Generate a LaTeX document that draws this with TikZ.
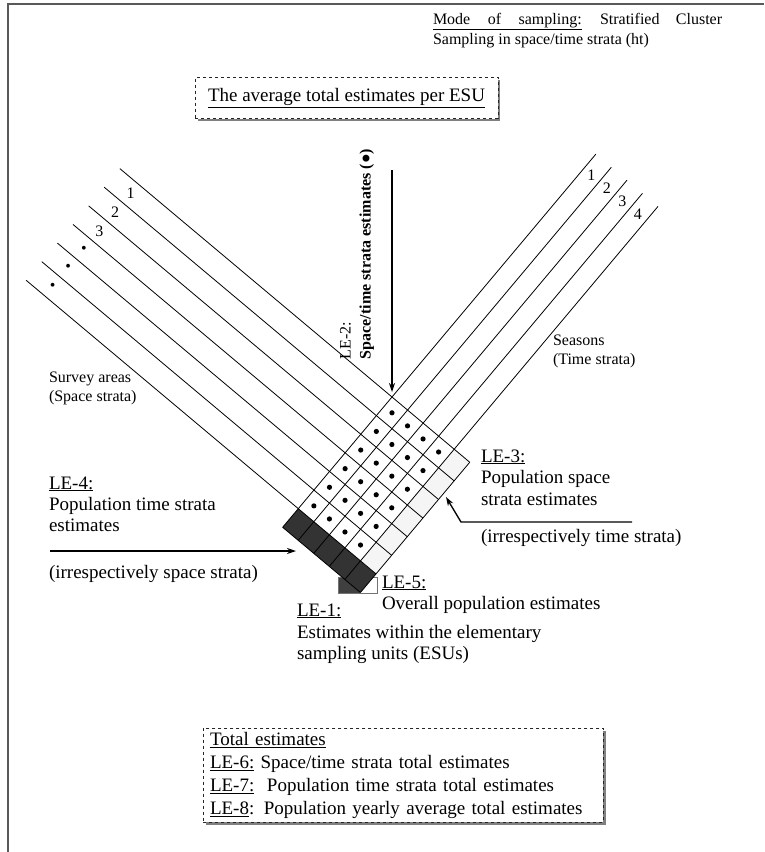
\documentclass[tikz,border=0pt]{standalone}
\usepackage{fontspec}
\setmainfont{Liberation Serif}
\usetikzlibrary{arrows.meta,shadows}
\begin{document}
\begin{tikzpicture}[x=1pt,y=-1pt,
  every node/.style={inner sep=0pt, outer sep=0pt},
  big/.style={anchor=base west, font=\fontsize{19}{22}\selectfont},
  small/.style={anchor=base west, font=\fontsize{16}{19}\selectfont},
  num/.style={font=\fontsize{16}{19}\selectfont},
  gline/.style={line width=0.8pt},
  arr/.style={line width=1.3pt, -{Stealth[length=9pt,width=6pt]}},
  dbox/.style={draw=black!85, dashed, line width=0.9pt, fill=white,
    drop shadow={shadow xshift=2.5pt, shadow yshift=-2.5pt, fill=black!50, opacity=1}},
  darkcell/.style={fill=black!80},
  lightcell/.style={fill=black!4},
]
\useasboundingbox (0,0) rectangle (764,852);
\fill[white] (0,0) rectangle (764,852);
% frame
\draw[line width=2pt, black!65] (8,852) -- (8,4) -- (764,4);

% mode of sampling
\node[small] (mode1) at (433,24) {\underline{\makebox[148.7pt][s]{Mode of sampling:}}\hspace{18.3pt}Stratified\hspace{16.4pt}Cluster};
\node[small] (mode2) at (433,44) {Sampling in space/time strata (ht)};

% top box
\node[dbox, anchor=west, minimum height=41pt, inner xsep=13pt, font=\fontsize{19}{22}\selectfont] (avgbox) at (195,98) {\underline{The average total estimates per ESU}};

% overall estimate marker (LE-5) behind the corner cell
\fill[black!75] (338,577) rectangle (360.4,593);
\fill[white] (360.4,577) rectangle (377,593);
\draw[black!55, line width=0.8pt] (338,577) rectangle (377,593);

% grid
\begin{scope}[shift={(392,397)}, x={(15.55pt,-13.05pt)}, y={(-15.62pt,-18.61pt)}]
  \fill[darkcell] (0,6) -- (5,6) -- (5,7) -- (0,7) -- cycle;
  \fill[lightcell] (4,0) -- (5,0) -- (5,6) -- (4,6) -- cycle;
  \foreach \j in {0,...,6} \draw[gline] (-17.5,\j) -- (5,\j);
  \draw[gline] (0,7) -- (5,7);
  \foreach \i in {0,...,4} \draw[gline] (\i,-13.05) -- (\i,7);
  \draw[gline] (5,0) -- (5,7);
  \foreach \i in {0,...,3} \foreach \j in {0,...,5} \fill (\i+0.5,\j+0.5) circle (2.6pt);
  \foreach \j/\t in {0/1,1/2,2/3,3/•,4/•,5/•} \node[num] (sp\j) at (-16.3,\j+0.5) {\t};
  \foreach \i/\t in {0/1,1/2,2/3,3/4} \node[num] (se\i) at (\i+0.5,-12.26) {\t};
\end{scope}

% LE-2
\node[rotate=90, anchor=north west, align=left, font=\fontsize{16}{20}\selectfont] (le2) at (340,359) {LE-2:\\ \textbf{Space/time strata estimates (●)}};
\coordinate (a2s) at (392,170);
\coordinate (a2e) at (392,392);
\draw[arr] (a2s) -- (a2e);

% strata labels
\node[small] (sa1) at (49,382) {Survey areas};
\node[small] (sa2) at (49,401) {(Space strata)};
\node[small] (ts1) at (553,345) {Seasons};
\node[small] (ts2) at (553,364) {(Time strata)};

% LE-4
\node[big] (le4a) at (49,489) {\underline{LE-4:}};
\node[big] (le4b) at (49,510) {Population time strata};
\node[big] (le4c) at (49,531) {estimates};
\coordinate (a4s) at (50,551);
\coordinate (a4e) at (296,551);
\draw[arr] (a4s) -- (a4e);
\node[big] (le4d) at (49,578) {(irrespectively space strata)};

% LE-3
\node[big] (le3a) at (481,462) {\underline{LE-3:}};
\node[big] (le3b) at (481,483) {Population space};
\node[big] (le3c) at (481,505) {strata estimates};
\coordinate (a3s) at (632,522);
\coordinate (a3m) at (461,522);
\coordinate (a3e) at (446,497);
\draw[arr] (a3s) -- (a3m) -- (a3e);
\node[big] (le3d) at (481,542) {(irrespectively time strata)};

% LE-5
\node[big] (le5a) at (382,588) {\underline{LE-5:}};
\node[big] (le5b) at (382,609) {Overall population estimates};

% LE-1
\node[big] (le1a) at (297,616) {\underline{LE-1:}};
\node[big] (le1b) at (297,638) {Estimates within the elementary};
\node[big] (le1c) at (297,659) {sampling units (ESUs)};

% bottom box
\node[dbox, anchor=north west, text width=386pt, inner xsep=7pt, inner ysep=4pt, align=left, font=\fontsize{19}{23}\selectfont] (totbox) at (203,728)
{\underline{Total estimates}\\
\underline{LE-6:} Space/time strata total estimates\\
\underline{LE-7:}\ \ Population time strata total estimates\\
\underline{LE-8}: Population yearly average total estimates};
\end{tikzpicture}
\end{document}
